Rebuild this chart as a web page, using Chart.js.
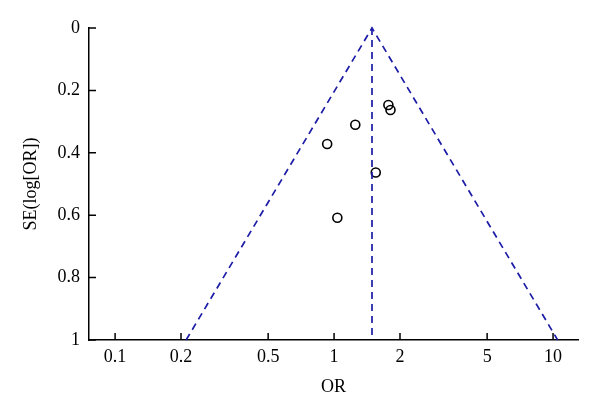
<!DOCTYPE html>
<html>
<head>
<meta charset="utf-8">
<script src="https://cdn.jsdelivr.net/npm/chart.js@4/dist/chart.umd.min.js"></script>
<style>
  html, body { margin: 0; padding: 0; background: #fff; }
  #wrap { width: 600px; height: 416px; }
</style>
</head>
<body>
<div id="wrap"><canvas id="c"></canvas></div>
<script>
// study estimates
const studyOR = [1.77, 1.81, 1.25, 0.93, 1.55, 1.035];
const studySE = [0.247, 0.263, 0.31, 0.372, 0.463, 0.608];

// funnel: pooled OR and 95% limits at SE = 1
const pooledOR = 1.49;
const funnelLeftOR = 0.211;
const funnelRightOR = 10.5;
const funnelSE = [0, 1];

const xTicks = [0.1, 0.2, 0.5, 1, 2, 5, 10];
const yTicks = [0, 0.2, 0.4, 0.6, 0.8, 1];

const FONT = { family: "'Liberation Serif'", size: 18 };
const BLUE = "#1c1ca6";

// ticks drawn inward from the axis lines
const inwardTicks = {
  id: "inwardTicks",
  afterDraw(chart) {
    const { ctx, chartArea: a, scales } = chart;
    ctx.save();
    ctx.strokeStyle = "#000";
    ctx.lineWidth = 1.5;
    ctx.beginPath();
    xTicks.forEach((v) => {
      const px = scales.x.getPixelForValue(v);
      ctx.moveTo(px, a.bottom);
      ctx.lineTo(px, a.bottom - 7);
    });
    yTicks.forEach((v) => {
      const py = scales.y.getPixelForValue(v);
      ctx.moveTo(a.left, py);
      ctx.lineTo(a.left + 7, py);
    });
    ctx.stroke();
    ctx.restore();
  },
};

const dash = { borderColor: BLUE, borderWidth: 1.7, borderDash: [7, 5], pointRadius: 0, fill: false, showLine: true, clip: false };

new Chart(document.getElementById("c"), {
  type: "scatter",
  data: {
    datasets: [
      { ...dash, data: [{ x: funnelLeftOR, y: funnelSE[1] }, { x: pooledOR, y: funnelSE[0] }, { x: funnelRightOR, y: funnelSE[1] }] },
      { ...dash, data: funnelSE.map((s) => ({ x: pooledOR, y: s })) },
      {
        data: studyOR.map((o, i) => ({ x: o, y: studySE[i] })),
        pointRadius: 4.5,
        pointBorderWidth: 1.6,
        pointBorderColor: "#000",
        pointBackgroundColor: "rgba(0,0,0,0)",
        showLine: false,
        clip: false,
      },
    ],
  },
  options: {
    responsive: true,
    maintainAspectRatio: false,
    animation: false,
    layout: { padding: { top: 28, right: 22, left: 0, bottom: 0 } },
    plugins: { legend: { display: false }, tooltip: { enabled: false } },
    scales: {
      x: {
        type: "logarithmic",
        min: 0.076,
        max: 13,
        afterBuildTicks: (s) => { s.ticks = xTicks.map((v) => ({ value: v })); },
        afterFit: (s) => { s.height = 76; },
        ticks: { font: FONT, color: "#000", padding: 6, maxRotation: 0, autoSkip: false, callback: (v) => String(v) },
        grid: { drawOnChartArea: false, drawTicks: false },
        border: { color: "#000", width: 1.5 },
        title: { display: true, text: "OR", font: FONT, color: "#000", padding: { bottom: 18 } },
      },
      y: {
        reverse: true,
        min: 0,
        max: 1,
        afterBuildTicks: (s) => { s.ticks = yTicks.map((v) => ({ value: v })); },
        afterFit: (s) => { s.width = 89; },
        ticks: { font: FONT, color: "#000", padding: 9, callback: (v) => String(v) },
        grid: { drawOnChartArea: false, drawTicks: false },
        border: { color: "#000", width: 1.5 },
        title: { display: true, text: "SE(log[OR])", font: FONT, color: "#000", padding: { top: 20 } },
      },
    },
  },
  plugins: [inwardTicks],
});
</script>
</body>
</html>
